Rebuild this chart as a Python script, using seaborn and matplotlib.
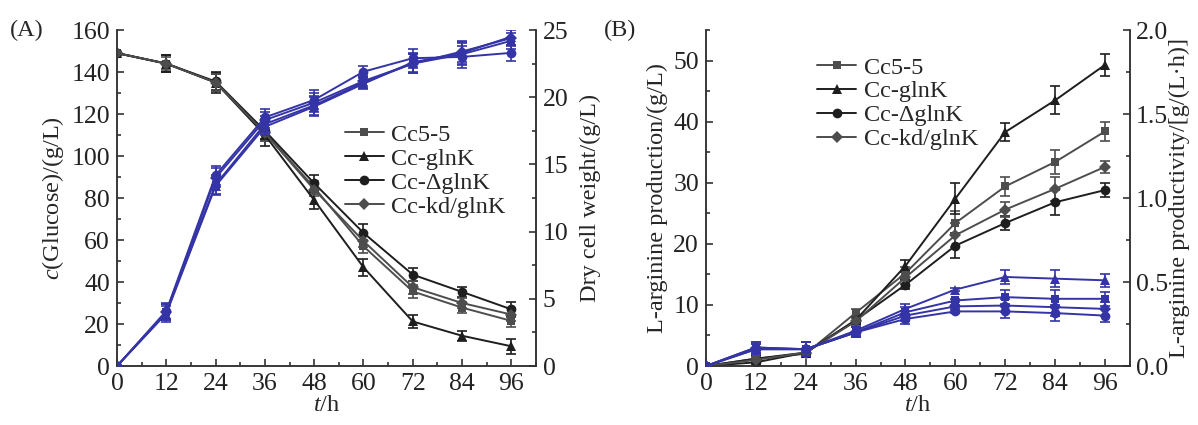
import numpy as np
import pandas as pd
import matplotlib
matplotlib.use("Agg")
import matplotlib.pyplot as plt
from matplotlib.lines import Line2D
from matplotlib.ticker import MultipleLocator, FormatStrFormatter
import seaborn as sns

# ---------------- data ----------------
time_h = [0, 12, 24, 36, 48, 60, 72, 84, 96]
strains = ["Cc5-5", "Cc-glnK", "Cc-ΔglnK", "Cc-kd/glnK"]

# Panel A: residual glucose (g/L)
glc_cc55 = [149, 144, 135, 111, 85, 57, 35.5, 27.8, 21.5]
glc_glnk = [149, 144, 135, 110, 79, 47, 21.2, 14.4, 9.4]
glc_dglnk = [149, 144, 135.5, 112, 87, 63.4, 43.5, 35.3, 27.0]
glc_kd = [149, 144, 135, 111, 84, 59.5, 37.5, 30.0, 24.5]
glc_err_cc55 = [0, 4, 4, 4, 3, 3, 3, 2.5, 3]
glc_err_glnk = [0, 4, 5, 5, 4, 4, 3, 2.5, 3.5]
glc_err_dglnk = [0, 4, 4, 4, 4, 4, 3, 2.5, 3.5]
glc_err_kd = [0, 3, 4, 4, 3, 3, 3, 2.5, 3]

# Panel A: dry cell weight (g/L)
dcw_cc55 = [0, 4.0, 13.5, 18.0, 19.4, 21.1, 22.5, 23.2, 24.2]
dcw_glnk = [0, 3.9, 13.4, 17.8, 19.3, 21.0, 22.6, 23.3, 24.5]
dcw_dglnk = [0, 4.1, 14.2, 18.5, 19.8, 21.9, 22.9, 23.0, 23.3]
dcw_kd = [0, 4.0, 14.0, 18.3, 19.6, 21.2, 22.5, 23.4, 24.4]
dcw_err = [0, 0.6, 0.7, 0.6, 0.7, 0.4, 0.7, 0.8, 0.6]

# Panel B: L-arginine production (g/L)
arg_cc55 = [0, 1.2, 2.0, 8.7, 15.2, 23.4, 29.4, 33.4, 38.4]
arg_glnk = [0, 1.2, 2.2, 7.5, 16.4, 27.4, 38.3, 43.5, 49.3]
arg_dglnk = [0, 0.6, 2.2, 7.5, 13.3, 19.7, 23.4, 26.8, 28.8]
arg_kd = [0, 1.0, 2.2, 7.3, 14.5, 21.4, 25.6, 29.0, 32.6]
arg_err_cc55 = [0, 0.5, 0.5, 0.7, 1.0, 2.0, 1.5, 2.0, 1.5]
arg_err_glnk = [0, 0.5, 0.5, 0.7, 1.0, 2.5, 1.5, 2.3, 1.8]
arg_err_dglnk = [0, 0.5, 0.5, 0.5, 0.7, 2.0, 1.2, 2.0, 1.2]
arg_err_kd = [0, 0.5, 0.5, 0.5, 1.0, 2.0, 1.2, 2.0, 1.0]

# Panel B: L-arginine productivity g/(L*h)
prd_cc55 = [0, 0.11, 0.10, 0.20, 0.32, 0.39, 0.41, 0.40, 0.40]
prd_glnk = [0, 0.10, 0.10, 0.21, 0.34, 0.455, 0.53, 0.52, 0.51]
prd_dglnk = [0, 0.10, 0.10, 0.20, 0.28, 0.325, 0.325, 0.315, 0.30]
prd_kd = [0, 0.11, 0.10, 0.20, 0.30, 0.355, 0.36, 0.35, 0.34]
prd_err = [0, 0.03, 0.04, 0.03, 0.03, 0.01, 0.04, 0.05, 0.04]

x_ticks = [0, 12, 24, 36, 48, 60, 72, 84, 96]

# ---------------- style ----------------
sns.set_theme(style="ticks")
plt.rcParams["font.family"] = "serif"
plt.rcParams["font.serif"] = ["Liberation Serif", "DejaVu Serif"]
plt.rcParams["mathtext.fontset"] = "custom"
plt.rcParams["mathtext.rm"] = "Liberation Serif"
plt.rcParams["mathtext.it"] = "Liberation Serif:italic"
plt.rcParams["axes.unicode_minus"] = False

FS = 17.5
TFS = 18.5
markers = {"Cc5-5": "s", "Cc-glnK": "^", "Cc-ΔglnK": "o", "Cc-kd/glnK": "D"}
msizes = {"Cc5-5": 6, "Cc-glnK": 7, "Cc-ΔglnK": 7, "Cc-kd/glnK": 6}
black_pal = {"Cc5-5": "#4d4d4d", "Cc-glnK": "#1e1e1e", "Cc-ΔglnK": "#1e1e1e", "Cc-kd/glnK": "#4d4d4d"}
BLUE = "#3434a6"
blue_pal = {s: BLUE for s in strains}


def long_df(series):
    rows = []
    for s, vals, errs in series:
        for t, v, e in zip(time_h, vals, errs):
            rows.append({"t": t, "value": v, "err": e, "strain": s})
    return pd.DataFrame(rows)


def draw(ax, df, pal):
    for s in strains:
        sub = df[df["strain"] == s]
        ax.errorbar(sub["t"], sub["value"], yerr=sub["err"], fmt="none",
                    ecolor=pal[s], elinewidth=1.2, capsize=3.5, capthick=1.2, zorder=2)
        sns.lineplot(data=sub, x="t", y="value", ax=ax, color=pal[s],
                     marker=markers[s], markersize=msizes[s], markeredgewidth=0,
                     linewidth=1.4, legend=False, errorbar=None, zorder=3)


def style_axis(ax, pad=5):
    ax.tick_params(direction="in", which="both", labelsize=TFS, length=5, width=1.1,
                   colors="#222222", pad=pad)
    ax.tick_params(which="minor", length=3)
    for sp in ax.spines.values():
        sp.set_linewidth(1.1)
        sp.set_color("#333333")
    ax.spines["top"].set_visible(False)


fig = plt.figure(figsize=(11.98, 4.25), dpi=100)

# ---------------- Panel A ----------------
axA = fig.add_axes([0.0977, 0.1388, 0.3497, 0.7906])
axA2 = axA.twinx()

df_glc = long_df([("Cc5-5", glc_cc55, glc_err_cc55), ("Cc-glnK", glc_glnk, glc_err_glnk),
                  ("Cc-ΔglnK", glc_dglnk, glc_err_dglnk), ("Cc-kd/glnK", glc_kd, glc_err_kd)])
df_dcw = long_df([("Cc5-5", dcw_cc55, dcw_err), ("Cc-glnK", dcw_glnk, dcw_err),
                  ("Cc-ΔglnK", dcw_dglnk, dcw_err), ("Cc-kd/glnK", dcw_kd, dcw_err)])
draw(axA, df_glc, black_pal)
draw(axA2, df_dcw, blue_pal)

axA.set_xlim(0, 102)
axA.set_ylim(0, 160)
axA2.set_ylim(0, 25)
axA.set_xticks(x_ticks)
axA.xaxis.set_minor_locator(MultipleLocator(6))
axA.yaxis.set_major_locator(MultipleLocator(20))
axA.yaxis.set_minor_locator(MultipleLocator(10))
axA2.yaxis.set_major_locator(MultipleLocator(5))
axA2.yaxis.set_minor_locator(MultipleLocator(2.5))
axA.set_xlabel(r"$t$/h", fontsize=FS, labelpad=0)
axA.set_ylabel(r"$c$(Glucose)/(g/L)", fontsize=FS, labelpad=4)
axA2.set_ylabel("Dry cell weight/(g/L)", fontsize=FS, labelpad=8)
style_axis(axA)
style_axis(axA2)

handles = [Line2D([0], [0], color=black_pal[s], marker=markers[s], markersize=msizes[s],
                  markeredgewidth=0, linewidth=1.4) for s in strains]
axA.legend(handles, strains, loc="upper left", bbox_to_anchor=(0.52, 0.75), frameon=False,
           fontsize=FS, handlelength=1.6, handletextpad=0.3, labelspacing=0.08,
           borderaxespad=0)
axA.text(-0.255, 1.0, "(A)", transform=axA.transAxes, fontsize=FS, va="center", ha="left")

# ---------------- Panel B ----------------
axB = fig.add_axes([0.5893, 0.1388, 0.3539, 0.7906])
axB2 = axB.twinx()

df_arg = long_df([("Cc5-5", arg_cc55, arg_err_cc55), ("Cc-glnK", arg_glnk, arg_err_glnk),
                  ("Cc-ΔglnK", arg_dglnk, arg_err_dglnk), ("Cc-kd/glnK", arg_kd, arg_err_kd)])
df_prd = long_df([("Cc5-5", prd_cc55, prd_err), ("Cc-glnK", prd_glnk, prd_err),
                  ("Cc-ΔglnK", prd_dglnk, prd_err), ("Cc-kd/glnK", prd_kd, prd_err)])
draw(axB, df_arg, black_pal)
draw(axB2, df_prd, blue_pal)

axB.set_xlim(0, 102)
axB.set_ylim(0, 55)
axB2.set_ylim(0, 2.0)
axB.set_xticks(x_ticks)
axB.xaxis.set_minor_locator(MultipleLocator(6))
axB.yaxis.set_major_locator(MultipleLocator(10))
axB.yaxis.set_minor_locator(MultipleLocator(5))
axB2.yaxis.set_major_locator(MultipleLocator(0.5))
axB2.yaxis.set_minor_locator(MultipleLocator(0.25))
axB2.yaxis.set_major_formatter(FormatStrFormatter("%.1f"))
axB.set_xlabel(r"$t$/h", fontsize=FS, labelpad=0)
axB.set_ylabel("L-arginine production/(g/L)", fontsize=FS, labelpad=4)
axB2.set_ylabel("L-arginine productivity/[g/(L·h)]", fontsize=FS, labelpad=1)
style_axis(axB)
style_axis(axB2, pad=4)

axB.legend(handles, strains, loc="upper left", bbox_to_anchor=(0.24, 0.95), frameon=False,
           fontsize=FS, handlelength=1.6, handletextpad=0.3, labelspacing=0.08,
           borderaxespad=0)
axB.text(-0.24, 1.0, "(B)", transform=axB.transAxes, fontsize=FS, va="center", ha="left")

fig.savefig("out.png", dpi=100)
